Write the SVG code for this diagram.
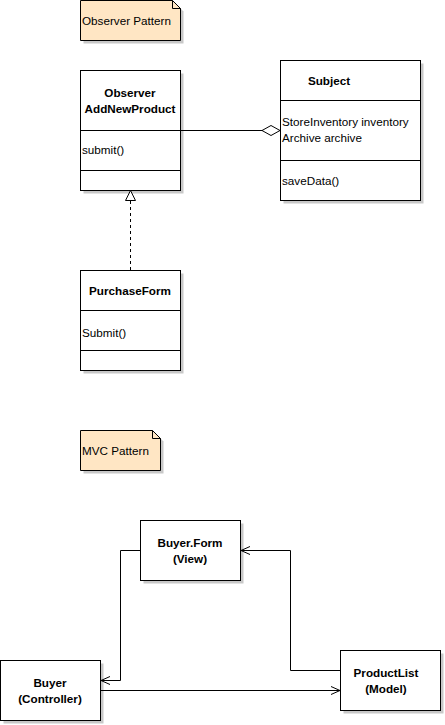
<svg xmlns="http://www.w3.org/2000/svg" width="445" height="725" viewBox="0 0 445 725">
<style>
text{font-family:"Liberation Sans",Arial,sans-serif;font-size:11.7px;fill:#000}
.b{font-weight:bold;text-anchor:middle}
.box{fill:#fff;stroke:#000;stroke-width:1}
.sh{fill:#c8c8c8;stroke:none}
.note{fill:#ffe6c4;stroke:#000;stroke-width:1}
.ln{fill:none;stroke:#000;stroke-width:1}
</style>
<defs>
<marker id="open" markerWidth="12" markerHeight="12" refX="10" refY="5" orient="auto" markerUnits="userSpaceOnUse">
<path d="M1,1 L10,5 L1,9" fill="none" stroke="#000" stroke-width="1"/>
</marker>
</defs>
<rect width="445" height="725" fill="#fff"/>

<g id="note-observer">
<path class="sh" d="M83.5,3.5 H175.5 L183.5,11.5 V43.5 H83.5 Z"/>
<path class="note" d="M80.5,0.5 H172.5 L180.5,8.5 V40.5 H80.5 Z"/>
<path class="ln" d="M172.5,0.5 V8.5 H180.5"/>
<text x="82" y="25">Observer Pattern</text>
</g>

<g id="observer">
<rect class="sh" x="83.5" y="73.5" width="100" height="120"/>
<rect class="box" x="80.5" y="70.5" width="100" height="120"/>
<path class="ln" d="M80.5,130.5 H180.5 M80.5,170.5 H180.5"/>
<text class="b" x="130" y="97">Observer</text>
<text class="b" x="130" y="113">AddNewProduct</text>
<text x="82" y="154">submit()</text>
</g>

<g id="subject">
<rect class="sh" x="283.5" y="63.5" width="140" height="140"/>
<rect class="box" x="280.5" y="60.5" width="140" height="140"/>
<path class="ln" d="M280.5,100.5 H420.5 M280.5,160.5 H420.5"/>
<text class="b" x="329" y="85">Subject</text>
<text x="282" y="126">StoreInventory inventory</text>
<text x="282" y="142">Archive archive</text>
<text x="282" y="185">saveData()</text>
</g>

<g id="purchaseform">
<rect class="sh" x="83.5" y="273.5" width="100" height="100"/>
<rect class="box" x="80.5" y="270.5" width="100" height="100"/>
<path class="ln" d="M80.5,310.5 H180.5 M80.5,350.5 H180.5"/>
<text class="b" x="130" y="295">PurchaseForm</text>
<text x="82" y="337">Submit()</text>
</g>

<g id="note-mvc">
<path class="sh" d="M83.5,433.5 H155.5 L163.5,441.5 V473.5 H83.5 Z"/>
<path class="note" d="M80.5,430.5 H152.5 L160.5,438.5 V470.5 H80.5 Z"/>
<path class="ln" d="M152.5,430.5 V438.5 H160.5"/>
<text x="82" y="455">MVC Pattern</text>
</g>

<g id="buyerform">
<rect class="sh" x="143.5" y="523.5" width="100" height="60"/>
<rect class="box" x="140.5" y="520.5" width="100" height="60"/>
<text class="b" x="190" y="547">Buyer.Form</text>
<text class="b" x="190" y="563">(View)</text>
</g>

<g id="buyer">
<rect class="sh" x="3.5" y="663.5" width="100" height="60"/>
<rect class="box" x="0.5" y="660.5" width="100" height="60"/>
<text class="b" x="50" y="687">Buyer</text>
<text class="b" x="50" y="703">(Controller)</text>
</g>

<g id="productlist">
<rect class="sh" x="343.5" y="653.5" width="100" height="60"/>
<rect class="box" x="340.5" y="650.5" width="100" height="60"/>
<text class="b" x="386" y="677">ProductList</text>
<text class="b" x="386" y="693">(Model)</text>
</g>

<g id="connectors">
<path class="ln" d="M180.5,130.5 H262"/>
<path d="M262,130.5 L271,125.5 L280,130.5 L271,135.5 Z" fill="#fff" stroke="#000" stroke-width="1"/>
<path class="ln" d="M130.5,270 V200" stroke-dasharray="3,3"/>
<path d="M130.5,190.5 L135.5,200.5 L125.5,200.5 Z" fill="#fff" stroke="#000" stroke-width="1"/>
<path class="ln" d="M140,550.5 H120.5 V680.5 H101" marker-end="url(#open)"/>
<path class="ln" d="M340,670.5 H290.5 V550.5 H241" marker-end="url(#open)"/>
<path class="ln" d="M101,690.5 H340" marker-end="url(#open)"/>
</g>
</svg>
